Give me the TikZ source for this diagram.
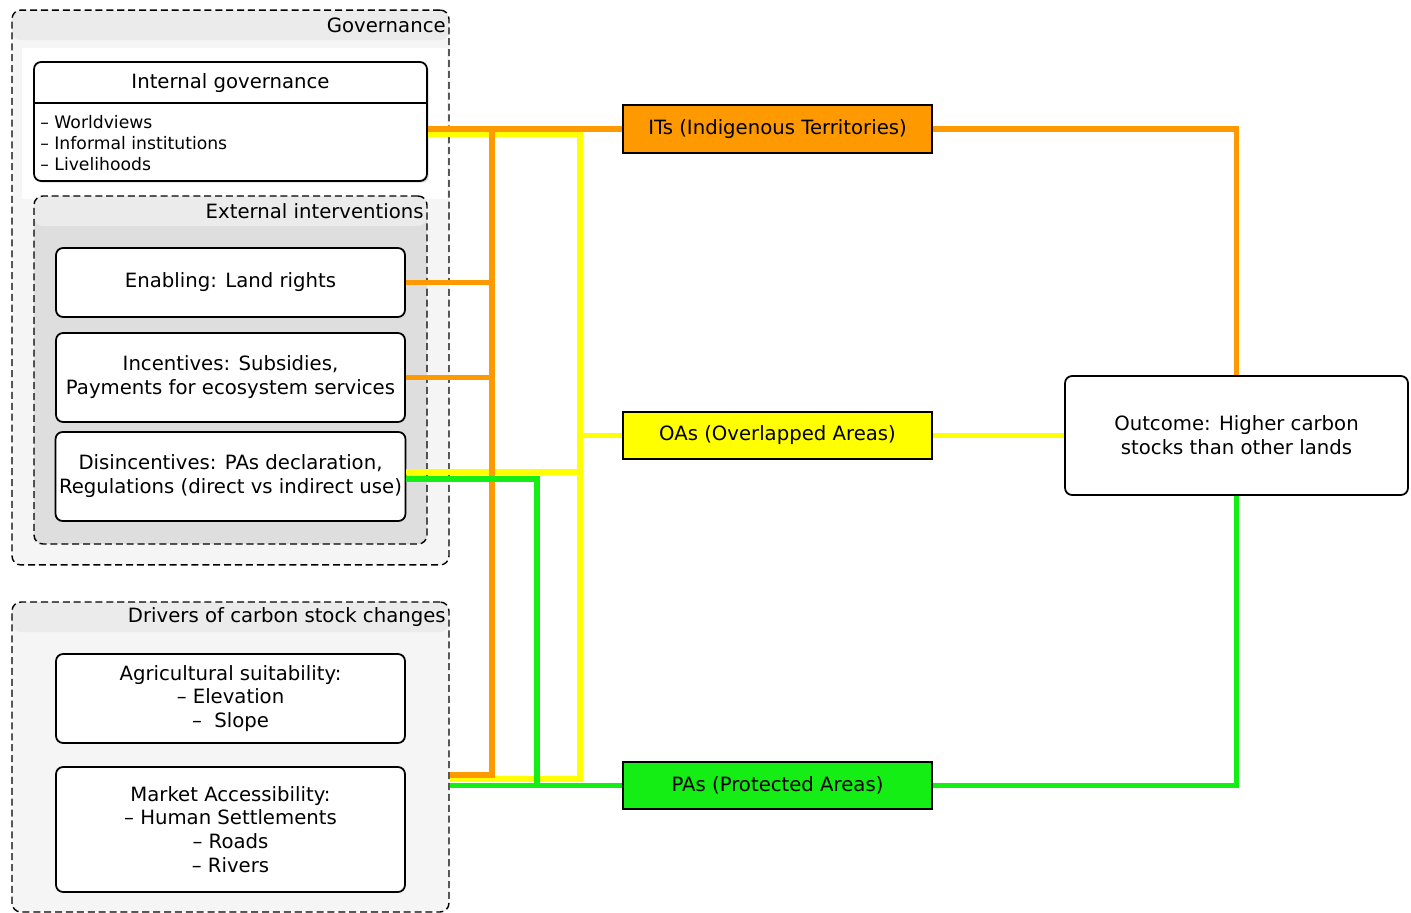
\documentclass[tikz,border=0pt]{standalone}
\usepackage{fontspec}
\setmainfont{DejaVu Sans}
\usetikzlibrary{shadows}

\definecolor{itorange}{RGB}{255,153,0}
\definecolor{oayellow}{RGB}{255,255,0}
\definecolor{pagreen}{RGB}{20,238,20}
\definecolor{headgray}{RGB}{235,235,235}
\definecolor{bodygray}{RGB}{245,245,245}
\definecolor{innergray}{RGB}{222,222,222}

\tikzset{
    box/.style={draw, rounded corners=4pt, fill=white, line width=1pt,
        minimum width=6.98cm, align=center, inner sep=2pt},
    areabox/.style={draw, line width=1pt, minimum width=6.18cm,
        minimum height=0.95cm, align=center},
    groupbox/.style={draw, dash pattern=on 4pt off 2.2pt, rounded corners=5pt, line width=0.8pt,
        path picture={\fill[headgray] (path picture bounding box.north west)
            rectangle ([yshift=-0.6cm]path picture bounding box.east |- path picture bounding box.north);}},
    grouptitle/.style={anchor=east, inner sep=0pt},
    link/.style={line width=3.1pt},
}

\begin{document}
\begin{tikzpicture}[x=0.02cm, y=-0.02cm, font=\fontsize{11.2}{13.6}\selectfont]
    \useasboundingbox (0,0) rectangle (1411,913);

    % groups
    \node[groupbox, fill=bodygray, minimum width=8.74cm, minimum height=11.1cm] (gov) at (230.5,287.5) {};
    \node[grouptitle] (govtitle) at (446,25) {Governance};
    \fill[white] (22,48) rectangle (447,199);

    \node[groupbox, fill=innergray, minimum width=7.86cm, minimum height=6.96cm] (extint) at (230.5,370) {};
    \node[grouptitle] (extinttitle) at (424,211) {External interventions};

    \node[groupbox, fill=bodygray, minimum width=8.74cm, minimum height=6.2cm] (drivers) at (230.5,757) {};
    \node[grouptitle] (driverstitle) at (446,617) {Drivers of carbon stock changes};

    % internal governance
    \node[box, minimum width=7.86cm, minimum height=2.38cm,
        drop shadow={opacity=0.3, shadow xshift=1pt, shadow yshift=-1pt}] (intgov) at (230.5,121.5) {};
    \node (intgovtitle) at (230.5,83) {Internal governance};
    \draw[line width=1pt] (intgov.west |- 0,103) -- (intgov.east |- 0,103);
    \node[anchor=west, align=left, inner sep=0pt, font=\fontsize{9.8}{11.9}\selectfont] (intgovitems) at (40,143)
        {-- Worldviews\\-- Informal institutions\\-- Livelihoods};

    % external interventions
    \node[box, minimum height=1.38cm] (enabling) at (230.5,282.5) {Enabling: Land rights};
    \node[box, minimum height=1.78cm] (incent) at (230.5,377.5) {Incentives: Subsidies,\\Payments for ecosystem services};
    \node[box, minimum height=1.78cm] (disinc) at (230.5,476.5) {Disincentives: PAs declaration,\\Regulations (direct vs indirect use)};

    % drivers
    \node[box, minimum height=1.78cm] (agri) at (230.5,698.5) {Agricultural suitability:\\-- Elevation\\--\ \ Slope};
    \node[box, minimum height=2.5cm] (market) at (230.5,829.5) {Market Accessibility:\\-- Human Settlements\\-- Roads\\-- Rivers};

    % land categories
    \node[areabox, fill=itorange] (its) at (777.5,129) {ITs (Indigenous Territories)};
    \node[areabox, fill=oayellow] (oas) at (777.5,435.5) {OAs (Overlapped Areas)};
    \node[areabox, fill=pagreen] (pas) at (777.5,785.5) {PAs (Protected Areas)};

    \node[box, minimum width=6.86cm, minimum height=2.38cm] (outcome) at (1236.5,435.5)
        {Outcome: Higher carbon\\ stocks than other lands};

    \coordinate (ybus) at (580,134);
    \coordinate (obus) at (492,129);
    \coordinate (gbus) at (537,479);

    % yellow links
    \draw[link, oayellow] (intgov.east |- ybus) -- (ybus) -- (ybus |- 0,779) -- (drivers.east |- 0,779);
    \draw[link, oayellow] (disinc.east |- 0,472) -- (ybus |- 0,472);
    \draw[link, oayellow] (ybus |- oas.west) -- (oas.west);
    \draw[link, oayellow] (oas.east) -- (outcome.west);

    % orange links
    \draw[link, itorange] (intgov.east |- its.west) -- (its.west);
    \draw[link, itorange] (obus) -- (obus |- 0,775) -- (drivers.east |- 0,775);
    \draw[link, itorange] (enabling.east) -- (enabling.east -| obus);
    \draw[link, itorange] (incent.east) -- (incent.east -| obus);
    \draw[link, itorange] (its.east) -| (outcome.north);

    % green links
    \draw[link, pagreen] (disinc.east |- gbus) -- (gbus) -- (gbus |- pas.west);
    \draw[link, pagreen] (drivers.east |- pas.west) -- (pas.west);
    \draw[link, pagreen] (pas.east) -| (outcome.south);
\end{tikzpicture}
\end{document}
